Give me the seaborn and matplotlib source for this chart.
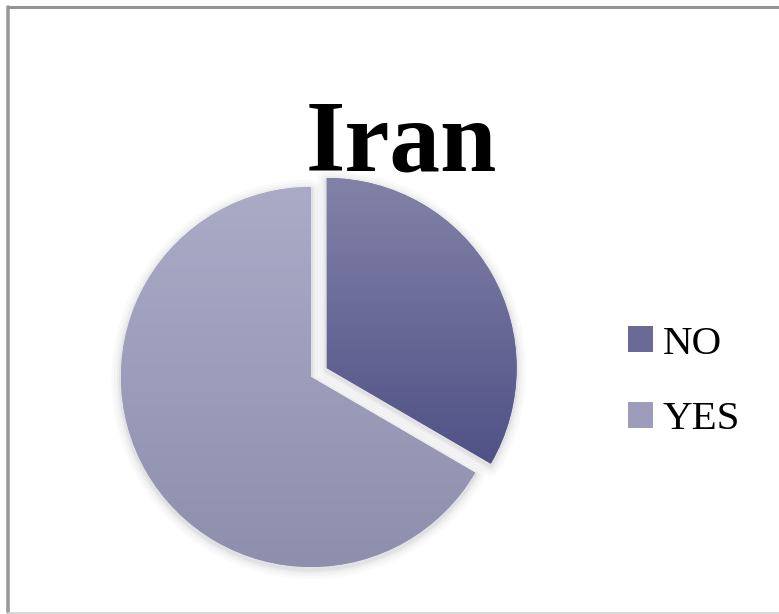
import numpy as np
import matplotlib
matplotlib.use("Agg")
import matplotlib.pyplot as plt
from matplotlib.patches import Wedge
from matplotlib.lines import Line2D
from matplotlib.colors import LinearSegmentedColormap
import seaborn as sns

# Survey answers for Iran (share of respondents, %)
labels = ["NO", "YES"]
shares = [33.4, 66.6]

# Each slice gets a vertical shade: (top colour, bottom colour)
slice_shades = [("#8282a8", "#505186"), ("#ababc8", "#8e8fad")]
legend_colors = ["#6a6a96", "#9d9dbb"]

sns.set_theme(style="white")
plt.rcParams["font.family"] = ["Liberation Serif", "DejaVu Serif"]

W, H = 779, 614
fig = plt.figure(figsize=(W / 100, H / 100), dpi=100)
fig.patch.set_facecolor("white")

# Pie axes: centre at (311, 377) px, radius 190 px, limits +/-1.2
R = 190
cx, cy = 311, 377
half = 1.2 * R
ax = fig.add_axes([(cx - half) / W, (H - cy - half) / H, 2 * half / W, 2 * half / H])

wedges, _ = ax.pie(
    shares,
    labels=None,
    colors=legend_colors,
    startangle=90,
    counterclock=False,
    explode=[0.095, 0.0],
    wedgeprops=dict(linewidth=0),
)
ax.set_xlim(-1.2, 1.2)
ax.set_ylim(-1.2, 1.2)
ax.set_aspect("equal")
ax.axis("off")

# Soft halo beneath the slices
for w in wedges:
    for lw, a in [(14, 0.018), (10, 0.025), (6, 0.035), (3, 0.05)]:
        halo = Wedge((w.center[0], w.center[1] - 0.012), w.r, w.theta1, w.theta2,
                     facecolor="none", edgecolor="#202030", linewidth=lw,
                     alpha=a, zorder=0.5, joinstyle="round")
        ax.add_patch(halo)

# Vertical gradient fill clipped to each slice (top row is the lighter shade)
grad = np.linspace(0, 1, 256).reshape(-1, 1)
for w, (top, bottom) in zip(wedges, slice_shades):
    cmap = LinearSegmentedColormap.from_list("shade", [top, bottom])
    ext = w.get_path().get_extents(w.get_patch_transform())
    im = ax.imshow(grad, cmap=cmap, aspect="auto",
                   extent=[ext.x0, ext.x1, ext.y0, ext.y1],
                   origin="upper", interpolation="bilinear", zorder=2)
    im.set_clip_path(w)
ax.set_xlim(-1.2, 1.2)
ax.set_ylim(-1.2, 1.2)

# Title
fig.text(401 / W, 1 - 171 / H, "Iran", ha="center", va="baseline",
         fontsize=73, fontweight="bold", color="black")

# Legend to the right of the pie
leg = fig.legend(wedges, labels, loc="center left",
                 bbox_to_anchor=(628 / W, 1 - 382 / H),
                 frameon=False, fontsize=29.5, handlelength=0.6, handleheight=0.6,
                 handletextpad=0.25, labelspacing=0.95, borderpad=0, borderaxespad=0)
for t in leg.get_texts():
    t.set_color("black")

# Chart area frame (left, top, bottom edges)
fig.add_artist(Line2D([8 / W, 8 / W], [1 - 7 / H, 1 - 612 / H],
                      transform=fig.transFigure, color="#9a9a9a", linewidth=2.6))
fig.add_artist(Line2D([8 / W, 1.0], [1 - 7 / H, 1 - 7 / H],
                      transform=fig.transFigure, color="#959595", linewidth=2.2))
fig.add_artist(Line2D([8 / W, 1.0], [1 - 612.5 / H, 1 - 612.5 / H],
                      transform=fig.transFigure, color="#cfcfcf", linewidth=1.2))

fig.savefig("out.png", dpi=100, facecolor="white")
